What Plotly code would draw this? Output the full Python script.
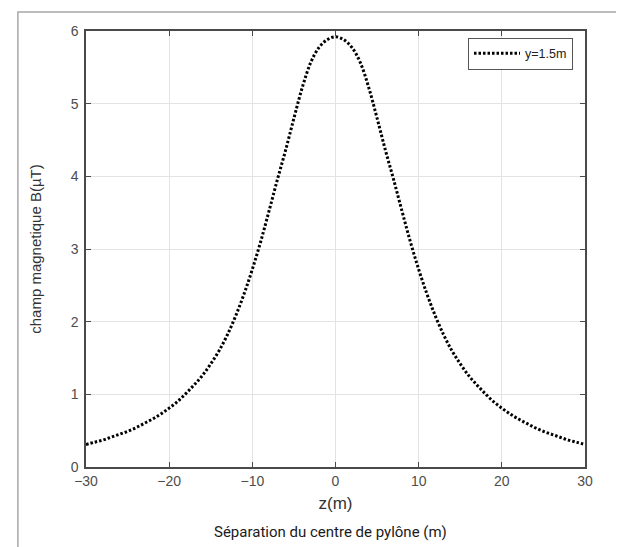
import plotly.graph_objects as go

# distance from pylon centre (m)
z = [-30, -29, -28, -27, -26, -25, -24, -23, -22, -21, -20, -19, -18, -17, -16, -15,
     -14, -13, -12, -11, -10, -9, -8, -7, -6, -5, -4, -3, -2, -1, 0,
     1, 2, 3, 4, 5, 6, 7, 8, 9, 10, 11, 12, 13, 14, 15,
     16, 17, 18, 19, 20, 21, 22, 23, 24, 25, 26, 27, 28, 29, 30]
# magnetic field B (uT) at y = 1.5 m
B = [0.31, 0.34, 0.37, 0.41, 0.45, 0.49, 0.54, 0.60, 0.66, 0.73, 0.81, 0.90, 1.01, 1.13, 1.26, 1.42,
     1.60, 1.82, 2.08, 2.38, 2.72, 3.10, 3.52, 3.95, 4.36, 4.80, 5.22, 5.56, 5.77, 5.88, 5.92,
     5.88, 5.77, 5.56, 5.22, 4.80, 4.36, 3.95, 3.52, 3.10, 2.72, 2.38, 2.08, 1.82, 1.60, 1.42,
     1.26, 1.13, 1.01, 0.90, 0.81, 0.73, 0.66, 0.60, 0.54, 0.49, 0.45, 0.41, 0.37, 0.34, 0.31]

x_ticks = [-30, -20, -10, 0, 10, 20, 30]
y_ticks = [0, 1, 2, 3, 4, 5, 6]

fig = go.Figure()
fig.add_trace(go.Scatter(
    x=z, y=B, mode="lines", name="y=1.5m",
    line=dict(color="black", width=3, dash="2.5px,2px", shape="spline"),
))

narrow = "Liberation Sans Narrow, Liberation Sans, Arial"
tick_font = dict(family=narrow, size=14, color="#4d4d4d")
axis_common = dict(
    showline=True, linecolor="#4a4a4a", linewidth=1.5, mirror="ticks",
    ticks="inside", ticklen=5, tickcolor="#4a4a4a", tickwidth=1,
    showgrid=True, gridcolor="#e3e3e3", gridwidth=1, zeroline=False,
    tickfont=tick_font, automargin=False,
)

fig.update_layout(
    width=624, height=547,
    margin=dict(l=78, r=47, t=23, b=88),
    paper_bgcolor="white", plot_bgcolor="white",
    showlegend=True,
    legend=dict(x=0.976, y=0.985, xanchor="right", yanchor="top",
                bgcolor="white", bordercolor="#555555", borderwidth=1,
                font=dict(family=narrow, size=12.5, color="#222222"),
                itemwidth=46, tracegroupgap=0),
    xaxis=dict(range=[-30, 30], tickvals=x_ticks, **axis_common,
               title=dict(text="z(m)", standoff=10,
                          font=dict(family=narrow, size=17, color="#333333"))),
    yaxis=dict(range=[0, 6], tickvals=y_ticks, ticklabelstandoff=3, **axis_common,
               title=dict(text="champ magnetique B(µT)", standoff=25,
                          font=dict(family="Liberation Sans, Arial", size=15, color="#333333"))),
    shapes=[dict(type="rect", xref="paper", yref="paper",
                 x0=-0.1365, x1=1.09, y0=-0.195, y1=1.0436,
                 line=dict(color="#a8a8a8", width=1.5), fillcolor="rgba(0,0,0,0)", layer="below")],
    annotations=[dict(text="Séparation du centre de pylône (m)", xref="paper", yref="paper",
                      x=0.49, y=-0.148, xanchor="center", yanchor="middle", showarrow=False,
                      font=dict(family="Roboto, Noto Sans, Arial", size=15, color="#1a1a1a"))],
)

fig.write_html("out.html")
